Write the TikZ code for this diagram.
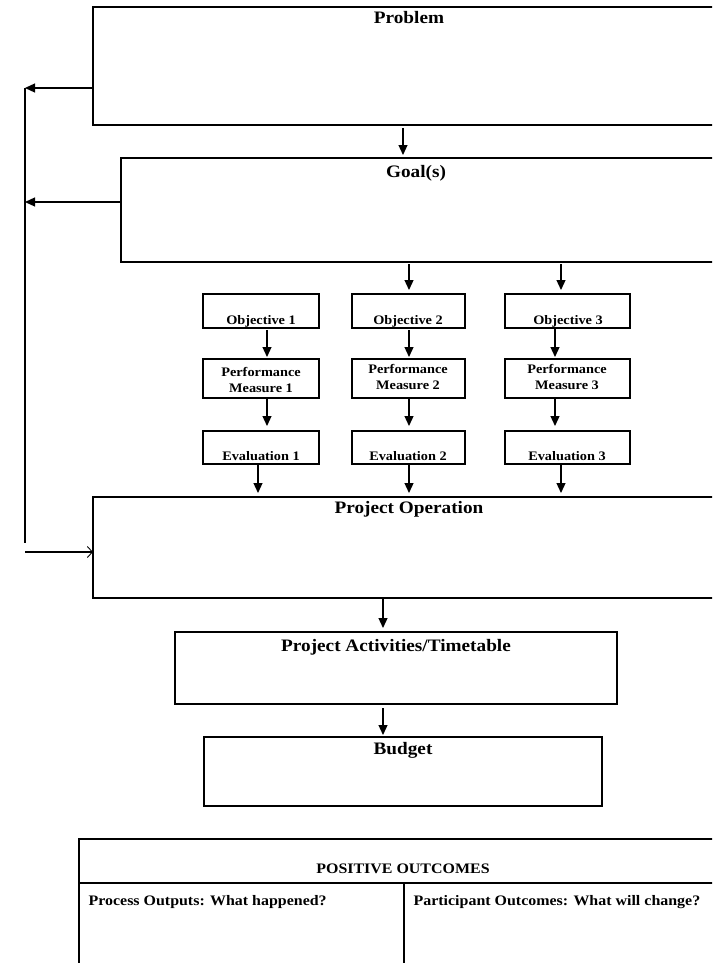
\documentclass[tikz,border=0pt]{standalone}
\usepackage{fontspec}
\setmainfont{Liberation Serif}[FakeStretch=1.1]
\usetikzlibrary{arrows.meta}
\begin{document}
\begin{tikzpicture}[x=1pt,y=-1pt,
  line width=1.2pt,
  box/.style={draw, line width=1.2pt, rectangle, inner sep=0pt, outer sep=0pt, anchor=north west},
  big/.style={font=\fontsize{17.5}{20}\selectfont\bfseries, inner sep=0pt, anchor=base},
  small/.style={font=\fontsize{13}{16}\selectfont\bfseries, inner sep=0pt, anchor=base, align=center},
  tab/.style={font=\fontsize{14.5}{17}\selectfont\bfseries, inner sep=0pt, anchor=base},
  arr/.style={-{Triangle[length=10pt,width=9pt]}},
  openarr/.style={-{Straight Barb[length=5pt,width=11pt,line width=0.9pt]}}]
\path[use as bounding box, clip] (0,0) rectangle (712,963);
% boxes
\node[box, minimum width=687pt, minimum height=118pt] (problem) at (93,7) {};
\node[box, minimum width=659pt, minimum height=104pt] (goal) at (121,158) {};
\node[box, minimum width=116pt, minimum height=34pt] (obj1) at (203,294) {};
\node[box, minimum width=113pt, minimum height=34pt] (obj2) at (352,294) {};
\node[box, minimum width=125pt, minimum height=34pt] (obj3) at (505,294) {};
\node[box, minimum width=116pt, minimum height=39pt] (perf1) at (203,359) {};
\node[box, minimum width=113pt, minimum height=39pt] (perf2) at (352,359) {};
\node[box, minimum width=125pt, minimum height=39pt] (perf3) at (505,359) {};
\node[box, minimum width=116pt, minimum height=33pt] (eval1) at (203,431) {};
\node[box, minimum width=113pt, minimum height=33pt] (eval2) at (352,431) {};
\node[box, minimum width=125pt, minimum height=33pt] (eval3) at (505,431) {};
\node[box, minimum width=687pt, minimum height=101pt] (projop) at (93,497) {};
\node[box, minimum width=442pt, minimum height=72pt] (activities) at (175,632) {};
\node[box, minimum width=398pt, minimum height=69pt] (budget) at (204,737) {};
\node[box, minimum width=701pt, minimum height=161pt] (outcomes) at (79,839) {};
\draw (outcomes.west |- 0,883) -- (outcomes.east |- 0,883);
\draw (404,883) -- (outcomes.south -| 404,0);
% labels
\node[big] (tproblem) at (409,24) {Problem};
\node[big] (tgoal) at (416,177) {Goal(s)};
\node[small] (tobj1) at (261,324) {Objective 1};
\node[small] (tobj2) at (408,324) {Objective 2};
\node[small] (tobj3) at (568,324) {Objective 3};
\node[small] (tperf1) at (261,376) {Performance};
\node[small] (tmeas1) at (261,392) {Measure 1};
\node[small] (tperf2) at (408,373) {Performance};
\node[small] (tmeas2) at (408,389) {Measure 2};
\node[small] (tperf3) at (567,373) {Performance};
\node[small] (tmeas3) at (567,389) {Measure 3};
\node[small] (teval1) at (261,460) {Evaluation 1};
\node[small] (teval2) at (408,460) {Evaluation 2};
\node[small] (teval3) at (567,460) {Evaluation 3};
\node[big] (tprojop) at (409,513) {Project Operation};
\node[big] (tact) at (396,651) {Project Activities/Timetable};
\node[big] (tbudget) at (403,754) {Budget};
\node[tab] (tpos) at (403,873) {POSITIVE OUTCOMES};
\node[tab, anchor=base west] (tproc) at (88,905) {Process Outputs: What happened?};
\node[tab, anchor=base west] (tpart) at (413,905) {Participant Outcomes: What will change?};
% feedback loop
\coordinate (fb1) at (25,88);
\coordinate (fb2) at (25,202);
\coordinate (fbend) at (25,543);
\coordinate (fb3) at (25,552);
\draw[arr] (problem.west |- fb1) -- (fb1);
\draw[arr] (goal.west |- fb2) -- (fb2);
\draw (fb1) -- (fbend);
\draw[openarr] (fb3) -- (projop.west |- fb3);
% column x positions
\coordinate (xa) at (403,0);
\coordinate (xb) at (409,0);
\coordinate (xc) at (561,0);
\coordinate (xd) at (267,0);
\coordinate (xe) at (555,0);
\coordinate (xf) at (258,0);
\coordinate (xg) at (383,0);
% arrows
\draw[arr, shorten <=3pt, shorten >=3pt] (problem.south -| xa) -- (goal.north -| xa);
\draw[arr, shorten <=2pt, shorten >=4pt] (goal.south -| xb) -- (obj2.north -| xb);
\draw[arr, shorten <=2pt, shorten >=4pt] (goal.south -| xc) -- (obj3.north -| xc);
\draw[arr, shorten <=2pt, shorten >=2pt] (obj1.south -| xd) -- (perf1.north -| xd);
\draw[arr, shorten <=2pt, shorten >=2pt] (obj2.south -| xb) -- (perf2.north -| xb);
\draw[arr, shorten <=0pt, shorten >=2pt] (obj3.south -| xe) -- (perf3.north -| xe);
\draw[arr, shorten >=5pt] (perf1.south -| xd) -- (eval1.north -| xd);
\draw[arr, shorten >=5pt] (perf2.south -| xb) -- (eval2.north -| xb);
\draw[arr, shorten >=5pt] (perf3.south -| xe) -- (eval3.north -| xe);
\draw[arr, shorten >=4pt] (eval1.south -| xf) -- (projop.north -| xf);
\draw[arr, shorten >=4pt] (eval2.south -| xb) -- (projop.north -| xb);
\draw[arr, shorten >=4pt] (eval3.south -| xc) -- (projop.north -| xc);
\draw[arr, shorten >=4pt] (projop.south -| xg) -- (activities.north -| xg);
\draw[arr, shorten <=4pt, shorten >=2pt] (activities.south -| xg) -- (budget.north -| xg);
\end{tikzpicture}
\end{document}
